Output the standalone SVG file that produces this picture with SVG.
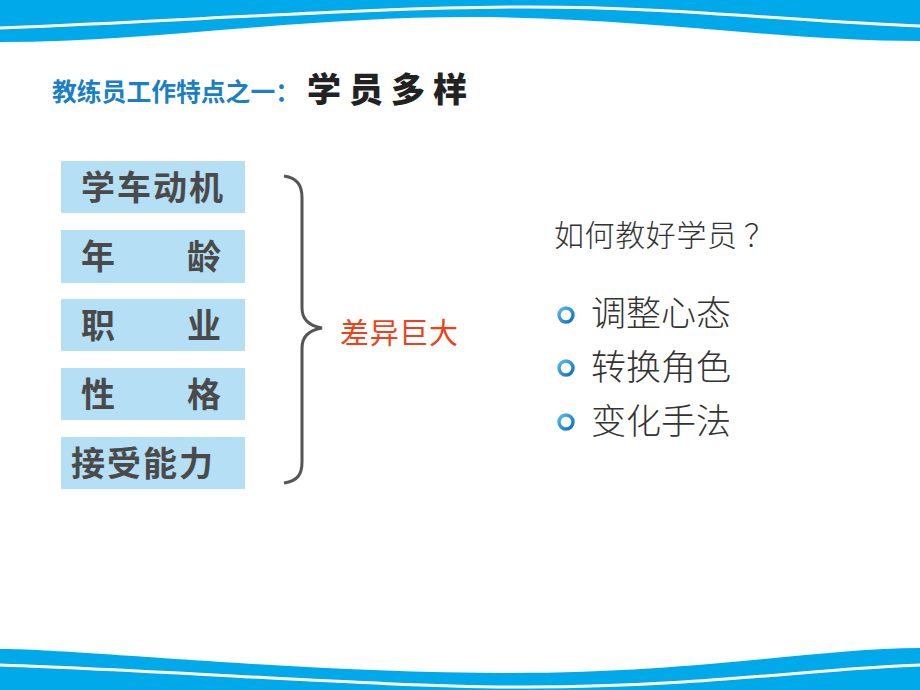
<svg xmlns="http://www.w3.org/2000/svg" width="920" height="690" viewBox="0 0 920 690">
<defs>
<style>
.box{fill:#b5dff5}
.lbl{font-family:"Noto Sans CJK SC","Liberation Sans",sans-serif;font-weight:bold;font-size:34px;fill:#4a4a4a}
.rt{font-family:"Noto Sans CJK SC","Liberation Sans",sans-serif;font-weight:300;font-size:30px;fill:#333}
.bt{font-family:"Noto Sans CJK SC","Liberation Sans",sans-serif;font-weight:300;font-size:35px;fill:#333}
.wave{fill:#00a9ea}
.wl{fill:none;stroke:#fff;stroke-width:3}
.bul{fill:none;stroke:url(#bg);stroke-width:3.4}
</style>
<linearGradient id="bg" x1="0" y1="0" x2="1" y2="1">
<stop offset="0" stop-color="#5ab8ee"/>
<stop offset="1" stop-color="#0a6fc0"/>
</linearGradient>
</defs>
<rect width="920" height="690" fill="#fff"/>
<g id="top-wave">
<path class="wave" d="M0,0 H920 V41 C780,41 640,17 470,17 C300,17 150,42 0,42 Z"/>
<path class="wl" d="M0,28 C200,20 380,7 528,7 C680,7 800,22 920,26"/>
</g>
<g id="bottom-wave">
<path class="wave" d="M0,649 C80,649 300,673 510,673 C700,673 820,648 920,648 V690 H0 Z"/>
<path class="wl" d="M0,665 C200,672 380,687 528,687 C700,687 820,668 920,665"/>
</g>
<g id="title">
<text x="52" y="101" font-family="'Noto Sans CJK SC','Liberation Sans',sans-serif" font-weight="bold" font-size="25" fill="#1b7fc6" textLength="248" lengthAdjust="spacingAndGlyphs">教练员工作特点之一：</text>
<text x="307" y="102" font-family="'Noto Sans CJK SC','Liberation Sans',sans-serif" font-weight="900" font-size="34" fill="#222" letter-spacing="8">学员多样</text>
</g>
<g id="n1"><rect class="box" x="61" y="161" width="184" height="52"/><text class="lbl" x="81" y="200" textLength="142">学车动机</text></g>
<g id="n2"><rect class="box" x="61" y="230" width="184" height="53"/><text class="lbl" x="81" y="269">年</text><text class="lbl" x="187" y="269">龄</text></g>
<g id="n3"><rect class="box" x="61" y="299" width="184" height="52"/><text class="lbl" x="81" y="338">职</text><text class="lbl" x="187" y="338">业</text></g>
<g id="n4"><rect class="box" x="61" y="368" width="184" height="52"/><text class="lbl" x="81" y="407">性</text><text class="lbl" x="187" y="407">格</text></g>
<g id="n5"><rect class="box" x="61" y="437" width="184" height="52"/><text class="lbl" x="71" y="476" textLength="142">接受能力</text></g>
<g id="connectors">
<path d="M284,176 C298,178 302,186 302,198 V308 C302,320 310,326 322,328 C310,330 302,336 302,348 V462 C302,474 298,481 284,483" fill="none" stroke="#555" stroke-width="3"/>
</g>
<g id="diff"><text x="340" y="344" font-family="'Noto Sans CJK SC','Liberation Sans',sans-serif" font-size="29" fill="#f0401a" textLength="118">差异巨大</text></g>
<g id="question"><text class="rt" x="554" y="246" textLength="183">如何教好学员</text><text class="rt" x="744" y="246">？</text></g>
<g id="b1"><circle class="bul" cx="566" cy="315" r="7"/><text class="bt" x="591" y="326">调整心态</text></g>
<g id="b2"><circle class="bul" cx="566" cy="368" r="7"/><text class="bt" x="591" y="380">转换角色</text></g>
<g id="b3"><circle class="bul" cx="566" cy="422" r="7"/><text class="bt" x="591" y="434">变化手法</text></g>
</svg>
